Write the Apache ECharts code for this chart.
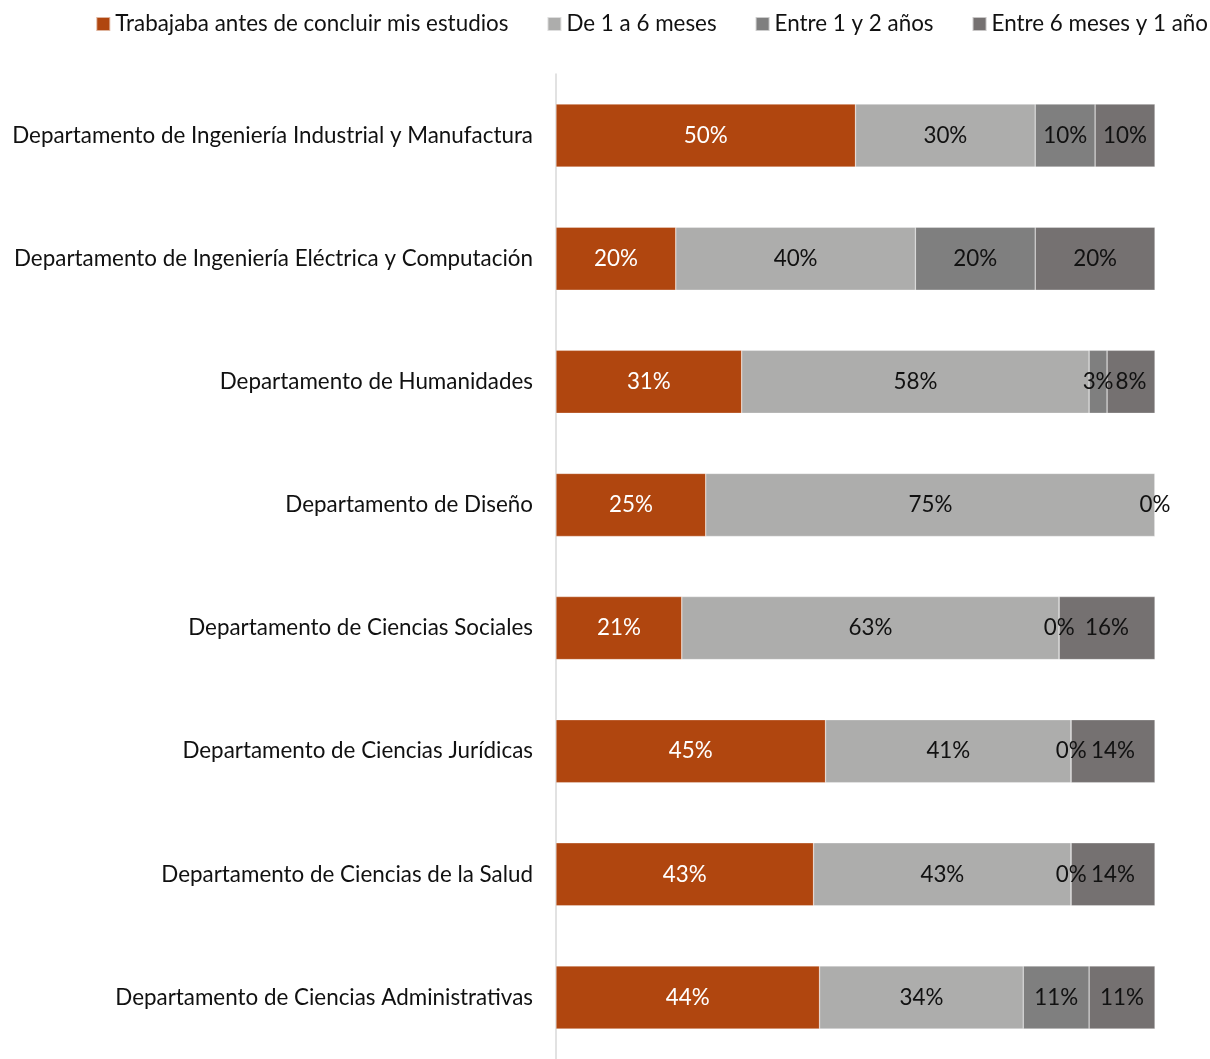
<!DOCTYPE html>
<html><head><meta charset="utf-8">
<script src="https://cdn.jsdelivr.net/npm/echarts@6/dist/echarts.min.js"></script>
<style>html,body{margin:0;padding:0;background:#fff}#c{width:1210px;height:1059px}</style>
</head><body><div id="c"></div>
<script>
const categories = [
  "Departamento de Ingeniería Industrial y Manufactura",
  "Departamento de Ingeniería Eléctrica y Computación",
  "Departamento de Humanidades",
  "Departamento de Diseño",
  "Departamento de Ciencias Sociales",
  "Departamento de Ciencias Jurídicas",
  "Departamento de Ciencias de la Salud",
  "Departamento de Ciencias Administrativas"
];
const seriesNames = ["Trabajaba antes de concluir mis estudios","De 1 a 6 meses","Entre 1 y 2 años","Entre 6 meses y 1 año"];
const trabajaba = [50, 20, 31, 25, 21, 45, 43, 44];
const de1a6 = [30, 40, 58, 75, 63, 41, 43, 34];
const entre1y2 = [10, 20, 3, 0, 0, 0, 0, 11];
const entre6y1 = [10, 20, 8, null, 16, 14, 14, 11];

const colors = ["#B0460F", "#ADADAC", "#7F7F7F", "#757171"];
const font = "Lato";
const fs = 22.4;
const dataSets = [trabajaba, de1a6, entre1y2, entre6y1];
const chart = echarts.init(document.getElementById('c'));
chart.setOption({
  animation: false,
  textStyle: {fontFamily: font},
  legend: {
    top: 8, right: -3, itemWidth: 14, itemHeight: 14, itemGap: 38,
    icon: 'rect',
    textStyle: {fontSize: fs, color: '#111', fontFamily: font},
    data: seriesNames
  },
  grid: {left: 556, right: 55, top: 74, bottom: -4, containLabel: false},
  xAxis: {type: 'value', min: 0, max: 100, show: false},
  yAxis: {
    type: 'category', data: categories, inverse: true,
    axisLine: {show: true, lineStyle: {color: '#D9D9D9', width: 1.5}},
    axisTick: {show: false},
    axisLabel: {fontSize: fs, color: '#111', margin: 23, fontFamily: font}
  },
  series: dataSets.map((d, i) => ({
    name: seriesNames[i], type: 'bar', stack: 'total', barWidth: 63,
    data: d,
    itemStyle: {color: colors[i], borderColor: 'rgba(255,255,255,0.6)', borderWidth: 0.5},
    label: {
      show: true, position: 'inside', fontSize: fs, fontFamily: font,
      color: i === 0 ? '#ffffff' : '#111',
      formatter: p => (p.value === null || p.value === undefined) ? '' : Math.round(p.value) + '%'
    }
  }))
});
</script></body></html>
